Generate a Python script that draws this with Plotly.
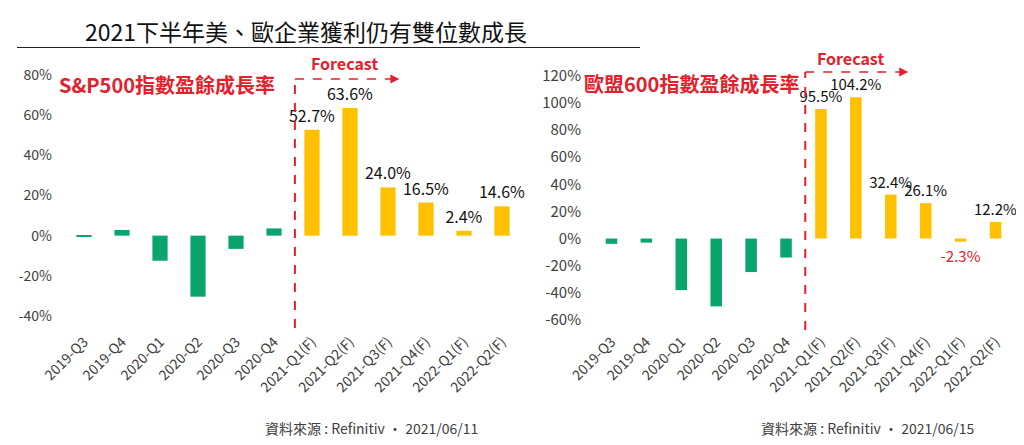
"""Recreate the S&P500 / STOXX 600 earnings-growth comparison chart."""

import plotly.graph_objects as go

# the page body keeps its default 8px margin, so the figure is drawn 8px smaller
# and every position below is given in window pixels, then shifted
OFFSET = 8
W, H = 1024 - OFFSET, 445 - OFFSET

quarters = [
    "2019-Q3", "2019-Q4", "2020-Q1", "2020-Q2", "2020-Q3", "2020-Q4",
    "2021-Q1(F)", "2021-Q2(F)", "2021-Q3(F)", "2021-Q4(F)", "2022-Q1(F)", "2022-Q2(F)",
]
is_forecast = [False] * 6 + [True] * 6

sp500_growth = [-0.4, 2.8, -12.5, -30.4, -6.6, 3.6, 52.7, 63.6, 24.0, 16.5, 2.4, 14.6]
stoxx600_growth = [-3.9, -3.0, -38.0, -50.0, -24.7, -14.0, 95.5, 104.2, 32.4, 26.1, -2.3, 12.2]

sp500_ticks = [-40, -20, 0, 20, 40, 60, 80]
stoxx600_ticks = [-60, -40, -20, 0, 20, 40, 60, 80, 100, 120]

title_text = "2021下半年美、歐企業獲利仍有雙位數成長"
sp500_label = "S&P500指數盈餘成長率"
stoxx600_label = "歐盟600指數盈餘成長率"
sp500_source = "資料來源 : Refinitiv · 2021/06/11"
stoxx600_source = "資料來源 : Refinitiv · 2021/06/15"

GREEN = "#0AA56C"
GOLD = "#FFC000"
RED = "#E3202B"
TEXT = "#404040"
FONT = "Noto Sans CJK TC"


def px(x):
    return (x - OFFSET) / W


def py(y):
    return 1 - (y - OFFSET) / H


def bar_trace(values, xaxis, yaxis, width, label_size):
    colors = [GOLD if f else GREEN for f in is_forecast]
    labels = [f"{v:.1f}%" if f else "" for v, f in zip(values, is_forecast)]
    label_colors = [RED if (f and v < 0) else "#111111" for v, f in zip(values, is_forecast)]
    return go.Bar(
        x=quarters,
        y=values,
        marker=dict(color=colors, line=dict(width=0)),
        width=width,
        text=labels,
        textposition="outside",
        constraintext="none",
        textfont=dict(size=label_size, color=label_colors, family=FONT),
        cliponaxis=False,
        xaxis=xaxis,
        yaxis=yaxis,
        showlegend=False,
        hovertemplate="%{x}: %{y:.1f}%<extra></extra>",
    )


fig = go.Figure()
fig.add_trace(bar_trace(sp500_growth, "x", "y", 0.4, 16))
fig.add_trace(bar_trace(stoxx600_growth, "x2", "y2", 0.33, 15))

xaxis_style = dict(
    type="category",
    tickangle=-45,
    tickfont=dict(size=14, color=TEXT, family=FONT),
    showgrid=False,
    showline=False,
    zeroline=False,
    ticks="",
    automargin=False,
    fixedrange=True,
)
yaxis_style = dict(
    showgrid=False,
    showline=False,
    zeroline=False,
    ticks="",
    automargin=False,
    ticklabelstandoff=12,
)

fig.update_layout(
    template="none",
    width=W,
    height=H,
    margin=dict(l=0, r=0, t=0, b=0, pad=0),
    paper_bgcolor="white",
    plot_bgcolor="white",
    font=dict(family=FONT, color=TEXT),
    xaxis=dict(domain=[px(65), px(521)], anchor="y", **xaxis_style),
    yaxis=dict(domain=[py(330), py(70)], anchor="x", range=[-47, 82.5],
               tickvals=sp500_ticks, ticktext=[f"{v}%" for v in sp500_ticks],
               tickfont=dict(size=14, color=TEXT, family=FONT), **yaxis_style),
    xaxis2=dict(domain=[px(594), px(1013)], anchor="y2", **xaxis_style),
    yaxis2=dict(domain=[py(330), py(70)], anchor="x2", range=[-67.4, 124.2],
                tickvals=stoxx600_ticks, ticktext=[f"{v}%" for v in stoxx600_ticks],
                tickfont=dict(size=15, color=TEXT, family=FONT), **yaxis_style),
)

# title and divider
fig.add_annotation(text=title_text, xref="paper", yref="paper", x=px(306), y=py(31),
                   xanchor="center", yanchor="middle", showarrow=False,
                   font=dict(size=23, color="#111111", family=FONT))
fig.add_shape(type="line", xref="paper", yref="paper", x0=px(17), x1=px(640),
              y0=py(47.5), y1=py(47.5), line=dict(color="#222222", width=1))

# red panel labels
fig.add_annotation(text=f"<b>{sp500_label}</b>", xref="paper", yref="paper", x=px(57), y=py(84),
                   xanchor="left", yanchor="middle", showarrow=False,
                   font=dict(size=20, color=RED, family=FONT))
fig.add_annotation(text=f"<b>{stoxx600_label}</b>", xref="paper", yref="paper", x=px(582), y=py(83),
                   xanchor="left", yanchor="middle", showarrow=False,
                   font=dict(size=20, color=RED, family=FONT))

# forecast markers: dashed bracket with arrow
for xr, xline, xtip, ytop, ybot, ytext in [("x", 5.55, 8.3, 79, 328, 63), ("x2", 5.55, 8.5, 72, 330, 58)]:
    fig.add_shape(type="line", xref=xr, yref="paper", x0=xline, x1=xline,
                  y0=py(ybot), y1=py(ytop), line=dict(color=RED, width=2, dash="dash"))
    fig.add_shape(type="line", xref=xr, yref="paper", x0=xline, x1=xtip,
                  y0=py(ytop), y1=py(ytop), line=dict(color=RED, width=1.5, dash="dash"))
    fig.add_annotation(xref=xr, yref="paper", x=xtip, y=py(ytop), ax=-8, ay=0, text="",
                       showarrow=True, arrowhead=2, arrowsize=1.2, arrowwidth=1.5, arrowcolor=RED)
    fig.add_annotation(text="<b>Forecast</b>", xref=xr, yref="paper", x=6.85, y=py(ytext),
                       xanchor="center", yanchor="middle", showarrow=False,
                       font=dict(size=16, color=RED, family=FONT))

# sources
fig.add_annotation(text=sp500_source, xref="paper", yref="paper", x=px(480), y=py(428),
                   xanchor="right", yanchor="middle", showarrow=False,
                   font=dict(size=14, color=TEXT, family=FONT))
fig.add_annotation(text=stoxx600_source, xref="paper", yref="paper", x=px(977), y=py(428),
                   xanchor="right", yanchor="middle", showarrow=False,
                   font=dict(size=14, color=TEXT, family=FONT))

fig.write_html("out.html")
